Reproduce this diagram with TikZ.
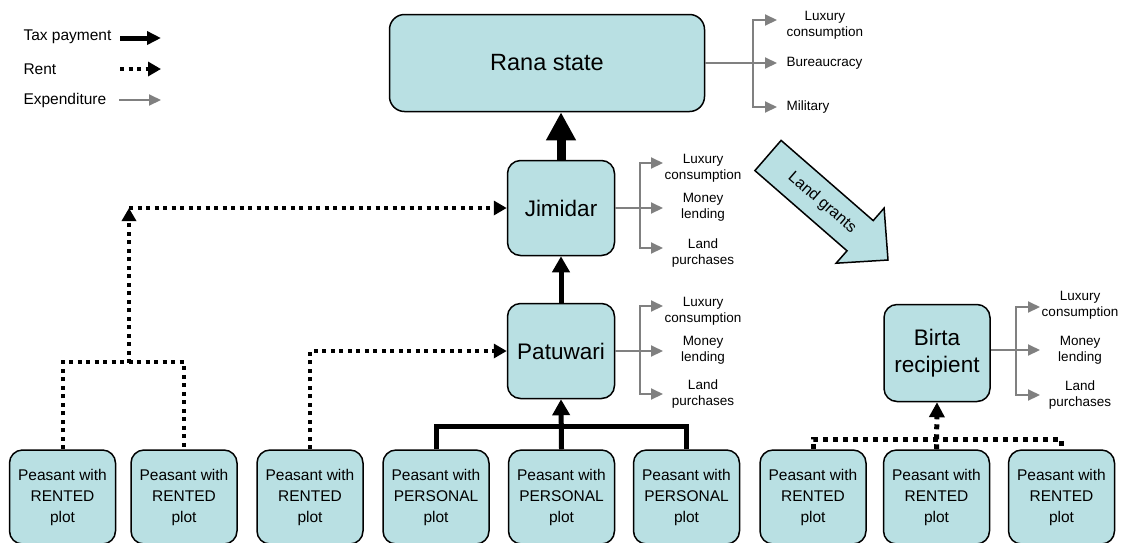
\documentclass[tikz,border=0pt]{standalone}
\usepackage{fontspec}
\setmainfont{Liberation Sans}
\usetikzlibrary{arrows.meta}

\definecolor{boxblue}{RGB}{185,224,227}
\definecolor{spendgrey}{RGB}{128,128,128}

\tikzset{
    box/.style={draw,line width=1.5pt,fill=boxblue,rounded corners=13pt,align=center},
    bigbox/.style={box,font=\fontsize{22.5}{27}\selectfont},
    peasant/.style={box,minimum width=106pt,minimum height=94pt,font=\fontsize{15.5}{21}\selectfont},
    small/.style={align=center,font=\fontsize{13.5}{16}\selectfont},
    legend/.style={anchor=west,font=\fontsize{15.5}{18}\selectfont},
    tax/.style={line width=5pt,-{Triangle[length=16pt,width=17pt]}},
    rent/.style={line width=4pt,dash pattern=on 4pt off 4.5pt,-{Triangle[length=13pt,width=14pt]}},
    spend/.style={spendgrey,line width=2pt,-{Triangle[length=12pt,width=11pt]}}
}

\begin{document}
\begin{tikzpicture}[x=1pt,y=-1pt]
    \useasboundingbox (0,0) rectangle (1126,542);
    \clip (0,0) rectangle (1126,542);

    % legend
    \node[legend] (ltax) at (20,37) {Tax payment};
    \node[legend] (lrent) at (20,69) {Rent};
    \node[legend] (lspend) at (20,100) {Expenditure};
    \coordinate (ltaxa) at (120,38);
    \coordinate (ltaxb) at (161,38);
    \coordinate (lrenta) at (120,69);
    \coordinate (lrentb) at (161,69);
    \coordinate (lspenda) at (119,100);
    \coordinate (lspendb) at (161,100);
    \draw[tax,-{Triangle[length=14pt,width=13pt]}] (ltaxa) -- (ltaxb);
    \draw[rent] (lrenta) -- (lrentb);
    \draw[spend] (lspenda) -- (lspendb);

    % state and collectors
    \node[bigbox,minimum width=315pt,minimum height=97pt,rounded corners=15pt,
          font=\fontsize{23.5}{28}\selectfont] (rana) at (547,63) {Rana state};
    \node[bigbox,minimum width=107pt,minimum height=95pt] (jimidar) at (561,208) {Jimidar};
    \node[bigbox,minimum width=107pt,minimum height=95pt] (patuwari) at (561,351) {Patuwari};
    \node[bigbox,minimum width=106pt,minimum height=97pt] (birta) at (937,353) {Birta\\recipient};

    % peasants
    \node[peasant] (p1) at (62.5,497) {Peasant with\\RENTED\\plot};
    \node[peasant] (p2) at (184,497) {Peasant with\\RENTED\\plot};
    \node[peasant] (p3) at (310,497) {Peasant with\\RENTED\\plot};
    \node[peasant] (p4) at (436,497) {Peasant with\\PERSONAL\\plot};
    \node[peasant] (p5) at (561.5,497) {Peasant with\\PERSONAL\\plot};
    \node[peasant] (p6) at (686.5,497) {Peasant with\\PERSONAL\\plot};
    \node[peasant] (p7) at (813,497) {Peasant with\\RENTED\\plot};
    \node[peasant] (p8) at (936.5,497) {Peasant with\\RENTED\\plot};
    \node[peasant] (p9) at (1061.5,497) {Peasant with\\RENTED\\plot};

    % land grants
    \draw[line width=1.5pt,fill=boxblue] (754.9,170.6) -- (781.1,140.4) -- (873.2,220.6)
        -- (884.1,208.1) -- (888,260) -- (836.1,263.2) -- (847.0,250.8) -- cycle;
    \node[rotate=-41,font=\fontsize{16}{19}\selectfont] (grants) at (822,203) {Land grants};

    % tax payments
    \draw[line width=9pt,-{Triangle[length=28pt,width=28pt]}] (jimidar.north) -- (jimidar.north |- rana.south);
    \draw[tax] (patuwari.north) -- (jimidar.south);
    \draw[line width=5pt] (p4.north) -- ++(0,-23) -| (p6.north);
    \draw[tax] (p5.north) -- (patuwari.south);

    % rents
    \coordinate (rentA) at (129,363);
    \coordinate (rentB) at (rentA |- jimidar.west);
    \draw[rent,-] (p1.north) -- ++(0,-87) -| (p2.north);
    \draw[rent] (rentA) -- (rentB);
    \draw[rent] (rentB) -- (jimidar.west);
    \draw[rent] (p3.north) |- (patuwari.west);
    \draw[rent,-,line width=5pt,dash pattern=on 5pt off 5pt] (p7.north) -- ++(0,-10) -| (p9.north);
    \draw[rent,line width=5pt,dash pattern=on 5pt off 5pt,-{Triangle[length=15pt,width=15pt]}] (p8.north) -- (birta.south);

    % expenditure of the state
    \coordinate (rbar) at (753,63);
    \coordinate (rlux) at (777,20);
    \coordinate (rbur) at (777,63);
    \coordinate (rmil) at (777,107);
    \draw[spendgrey,line width=2pt] (rana.east) -- (rbar);
    \draw[spend] (rbar) |- (rlux);
    \draw[spend] (rbar) -- (rbur);
    \draw[spend] (rbar) |- (rmil);
    \node[small,anchor=west] (ranalux) at (783,25) {Luxury\\consumption};
    \node[small,anchor=west] (ranabur) at (783,63) {Bureaucracy};
    \node[small,anchor=west] (ranamil) at (783,107) {Military};

    % expenditure of the jimidar
    \coordinate (jbar) at (640,208);
    \coordinate (jlux) at (663,163);
    \coordinate (jlend) at (663,208);
    \coordinate (jland) at (663,248);
    \draw[spendgrey,line width=2pt] (jimidar.east) -- (jbar);
    \draw[spend] (jbar) |- (jlux);
    \draw[spend] (jbar) -- (jlend);
    \draw[spend] (jbar) |- (jland);
    \node[small] (jimidarlux) at (703,168) {Luxury\\consumption};
    \node[small] (jimidarlend) at (703,207) {Money\\lending};
    \node[small] (jimidarland) at (703,253) {Land\\purchases};

    % expenditure of the patuwari
    \coordinate (pbar) at (640,351);
    \coordinate (plux) at (663,306);
    \coordinate (plend) at (663,351);
    \coordinate (pland) at (663,394);
    \draw[spendgrey,line width=2pt] (patuwari.east) -- (pbar);
    \draw[spend] (pbar) |- (plux);
    \draw[spend] (pbar) -- (plend);
    \draw[spend] (pbar) |- (pland);
    \node[small] (patuwarilux) at (703,311) {Luxury\\consumption};
    \node[small] (patuwarilend) at (703,350) {Money\\lending};
    \node[small] (patuwariland) at (703,394) {Land\\purchases};

    % expenditure of the birta recipient
    \coordinate (bbar) at (1016,350);
    \coordinate (blux) at (1040,307);
    \coordinate (blend) at (1040,350);
    \coordinate (bland) at (1040,395);
    \draw[spendgrey,line width=2pt] (birta.east |- bbar) -- (bbar);
    \draw[spend] (bbar) |- (blux);
    \draw[spend] (bbar) -- (blend);
    \draw[spend] (bbar) |- (bland);
    \node[small] (birtalux) at (1080,305) {Luxury\\consumption};
    \node[small] (birtalend) at (1080,350) {Money\\lending};
    \node[small] (birtaland) at (1080,395) {Land\\purchases};
\end{tikzpicture}
\end{document}
